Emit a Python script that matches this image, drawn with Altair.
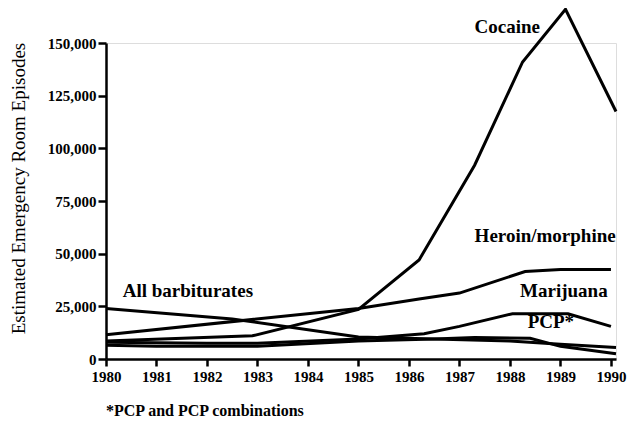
import altair as alt
import pandas as pd

# ---- data ----
cocaine_year = [1980, 1982.9, 1985.0, 1986.2, 1987.3, 1988.25, 1989.1, 1990.1]
cocaine_val = [8500, 11000, 23500, 47000, 92000, 141000, 166000, 117500]

heroin_year = [1980, 1985.0, 1986.2, 1987.0, 1988.3, 1989.0, 1990.0]
heroin_val = [11500, 24000, 28500, 31300, 41500, 42500, 42500]

barb_year = [1980, 1982.5, 1985.0, 1986.5, 1988.0, 1989.0, 1990.1]
barb_val = [24000, 19000, 10500, 9500, 8500, 7000, 5500]

mari_year = [1980, 1982, 1983, 1985.0, 1986.3, 1987.0, 1988.05, 1989.15, 1990.0]
mari_val = [8000, 7500, 7500, 9500, 12000, 15500, 21500, 21500, 15500]

pcp_year = [1980, 1981, 1983, 1985.0, 1986.5, 1987.3, 1988.4, 1989.0, 1990.1]
pcp_val = [6500, 6000, 6000, 8500, 9500, 10200, 9800, 6000, 2500]

label_text = ["Cocaine", "Heroin/morphine", "All barbiturates", "Marijuana", "PCP*"]
label_year = [1987.3, 1987.3, 1980.33, 1988.2, 1988.35]
label_val = [157700, 58200, 32200, 32200, 17500]

year_ticks = list(range(1980, 1991))
value_ticks = [0, 25000, 50000, 75000, 100000, 125000, 150000]

footnote = ["*PCP and PCP combinations"]
y_title = "Estimated Emergency Room Episodes"

# ---- build tables ----
rows = []
for name, xs, ys in [
    ("Cocaine", cocaine_year, cocaine_val),
    ("Heroin/morphine", heroin_year, heroin_val),
    ("All barbiturates", barb_year, barb_val),
    ("Marijuana", mari_year, mari_val),
    ("PCP", pcp_year, pcp_val),
]:
    for i, (x, y) in enumerate(zip(xs, ys)):
        rows.append({"series": name, "year": x, "value": y, "order": i})
df = pd.DataFrame(rows)
labels = pd.DataFrame({"text": label_text, "year": label_year, "value": label_val})
notes = pd.DataFrame({"text": footnote})

SERIF = "Liberation Serif"

xscale = alt.Scale(domain=[1980, 1990.1], nice=False, zero=False)
yscale = alt.Scale(domain=[0, 150000], nice=False)

xaxis = alt.Axis(
    values=year_ticks, format="d", title=None, grid=False,
    tickSize=7, tickWidth=2.5, tickColor="black",
    domainWidth=2.5, domainColor="black",
    labelFont=SERIF, labelFontWeight="bold", labelFontSize=15,
    labelColor="black", labelPadding=3, labelFlush=False,
)
yaxis = alt.Axis(
    values=value_ticks, format=",d", grid=False,
    tickSize=8, tickWidth=2.5, tickColor="black",
    domainWidth=2.5, domainColor="black",
    labelFont=SERIF, labelFontWeight="bold", labelFontSize=15,
    labelColor="black", labelPadding=2,
    title=y_title, titleFont=SERIF, titleFontSize=19, titleFontWeight="normal",
    titleColor="black", titleX=-88, titleY=145, titleBaseline="middle",
    titleAlign="center", titleAngle=270,
)

lines = alt.Chart(df).mark_line(color="black", strokeWidth=3, strokeJoin="miter").encode(
    x=alt.X("year:Q", scale=xscale, axis=xaxis),
    y=alt.Y("value:Q", scale=yscale, axis=yaxis),
    detail="series:N",
    order="order:Q",
)

texts = alt.Chart(labels).mark_text(
    font=SERIF, fontWeight="bold", fontSize=19, color="black",
    align="left", baseline="middle",
).encode(
    x=alt.X("year:Q", scale=xscale),
    y=alt.Y("value:Q", scale=yscale),
    text="text:N",
)

note = alt.Chart(notes).mark_text(
    font=SERIF, fontWeight="bold", fontSize=16, color="black",
    align="left", baseline="alphabetic",
).encode(
    x=alt.value(0),
    y=alt.value(373),
    text="text:N",
)

chart = (
    alt.layer(lines, texts, note)
    .properties(
        width=510,
        height=316,
        padding={"left": 98, "top": 35, "right": 12, "bottom": 62},
        autosize=alt.AutoSizeParams(type="none"),
    )
    .configure_view(stroke=None)
    .configure(background="white")
)

chart.save("out.html", embed_options={"renderer": "svg", "actions": False})
